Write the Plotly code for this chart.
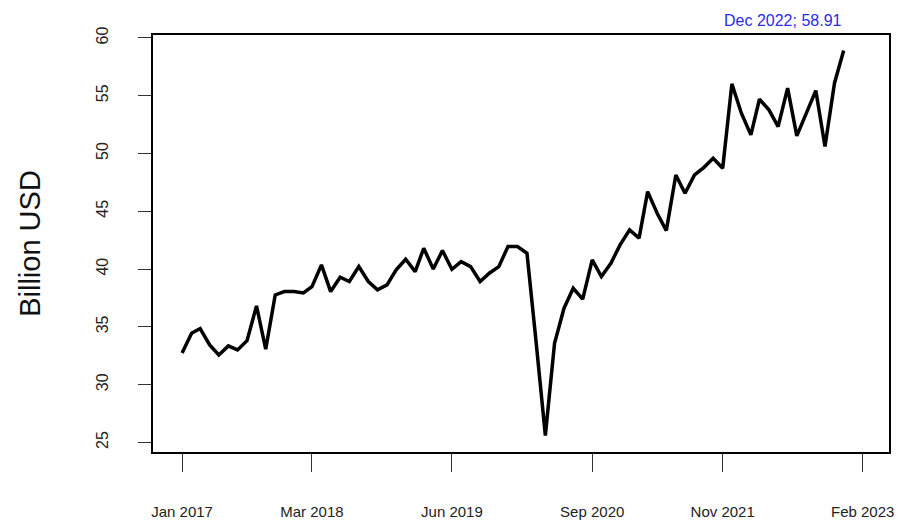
import pandas as pd
import plotly.graph_objects as go

months = pd.date_range("2017-01-01", "2022-12-01", freq="MS").strftime("%Y-%m-%d").tolist()
values = [
    32.74, 34.45, 34.85, 33.44, 32.57, 33.35, 33.00, 33.80, 36.81, 33.06, 37.76, 38.05,
    38.05, 37.93, 38.48, 40.36, 38.05, 39.29, 38.92, 40.21, 38.92, 38.20, 38.63, 39.93,
    40.85, 39.78, 41.80, 40.00, 41.60, 39.98, 40.64, 40.21, 38.92, 39.64, 40.21, 41.94,
    41.94, 41.37, 33.90, 25.60, 33.58, 36.61, 38.34, 37.39, 40.79, 39.35, 40.50, 42.09,
    43.39, 42.67, 46.70, 44.83, 43.33, 48.14, 46.56, 48.14, 48.80, 49.59, 48.72, 56.02,
    53.48, 51.61, 54.69, 53.77, 52.33, 55.65, 51.52, 53.48, 55.44, 50.60, 56.08, 58.91,
]
x_tick_dates = ["2017-01-01", "2018-03-01", "2019-06-01", "2020-09-01", "2021-11-01", "2023-02-01"]
x_tick_labels = ["Jan 2017", "Mar 2018", "Jun 2019", "Sep 2020", "Nov 2021", "Feb 2023"]
y_ticks = [25, 30, 35, 40, 45, 50, 55, 60]
last_label = "Dec 2022"

FONT = "Liberation Sans, Arial, sans-serif"

fig = go.Figure()
fig.add_trace(go.Scatter(
    x=months, y=values, mode="lines",
    line=dict(color="black", width=3.5),
    showlegend=False, hoverinfo="skip",
))

fig.add_annotation(
    x=months[-1], y=1, xref="x", yref="paper",
    xanchor="right", yanchor="bottom", yshift=4,
    text=f"{last_label}; {values[-1]:.2f}", showarrow=False,
    font=dict(family=FONT, size=16, color="#2b2be6"),
)

fig.update_layout(
    width=897, height=522,
    margin=dict(l=153, r=8, t=35, b=70),
    paper_bgcolor="white", plot_bgcolor="white",
    font=dict(family=FONT, color="#222222"),
    xaxis=dict(
        type="date", automargin=False,
        range=["2016-09-28", "2023-04-28"],
        tickmode="array", tickvals=x_tick_dates, ticktext=x_tick_labels,
        ticks="outside", ticklen=18, tickwidth=1.3, tickcolor="#333333",
        showline=True, linecolor="black", linewidth=2, mirror=True,
        showgrid=False, zeroline=False,
        tickfont=dict(family=FONT, size=15, color="#222222"),
        ticklabelstandoff=27,
    ),
    yaxis=dict(
        automargin=False,
        range=[24.17, 60.25],
        tickmode="array", tickvals=y_ticks, ticktext=[str(v) for v in y_ticks],
        ticks="outside", ticklen=13, tickwidth=1.3, tickcolor="#333333",
        showline=True, linecolor="black", linewidth=2, mirror=True,
        showgrid=False, zeroline=False,
        tickangle=-90,
        tickfont=dict(family=FONT, size=16, color="#222222"),
        ticklabelstandoff=24,
        title=dict(text="Billion USD", font=dict(family=FONT, size=29, color="#111111"), standoff=44),
    ),
)

fig.write_html("out.html")
